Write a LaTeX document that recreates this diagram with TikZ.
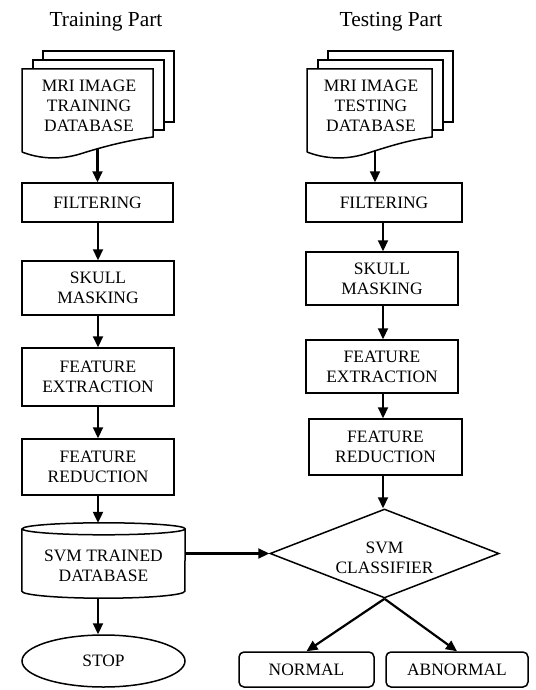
\documentclass[tikz,border=0pt]{standalone}
\usepackage{fontspec}
\setmainfont{Liberation Serif}
\usetikzlibrary{shapes.geometric,arrows.meta}
% stack of three sheets, #1 = left edge, #2 = sheet width
\newcommand{\docstack}[2]{%
  \draw[sheet] (#1+21,60) -- (#1+21,51) -- (#1+#2+21,51) -- (#1+#2+21,122) -- (#1+#2+11,122);
  \draw[sheet] (#1+11,69) -- (#1+11,60) -- (#1+#2+11,60) -- (#1+#2+11,130) -- (#1+#2,130);
  \draw[sheet] (#1,152) -- (#1,69) -- (#1+#2,69) -- (#1+#2,137)
    .. controls (#1+#2-23,140) and (#1+83,146) .. (#1+58,154)
    .. controls (#1+38,160) and (#1+18,159) .. (#1,152);
}

\begin{document}
\begin{tikzpicture}[x=1bp,y=-1bp,
    every node/.style={font=\fontsize{17.5}{20}\selectfont, align=center, inner sep=0pt},
    sheet/.style={line width=1.5bp, line join=miter},
    box/.style={draw, line width=1.5bp},
    arr/.style={-{Triangle[length=11bp,width=10bp]}, line width=2.2bp}]
  \useasboundingbox[fill=white] (0,0) rectangle (536,690);

  % titles
  \node[font=\fontsize{21.5}{24}\selectfont] (trtitle) at (106,22) {Training Part};
  \node[font=\fontsize{21.5}{24}\selectfont] (tstitle) at (391,22) {Testing Part};

  % training part
  \docstack{22}{131}
  \node (trdb) at (89,106) {MRI IMAGE\\TRAINING\\DATABASE};
  \coordinate (trout) at (97.5,149);
  \node[box, minimum width=151bp, minimum height=39bp] (lfilt) at (97.5,202.5) {FILTERING};
  \node[box, minimum width=152bp, minimum height=54bp] (lskull) at (98,288) {SKULL\\MASKING};
  \node[box, minimum width=152bp, minimum height=58bp] (lfext) at (98,377) {FEATURE\\EXTRACTION};
  \node[box, minimum width=152bp, minimum height=56bp] (lfred) at (98,467) {FEATURE\\REDUCTION};
  \node[minimum width=163bp, minimum height=75bp] (svmdb) at (103.5,560.5) {};
  \node (svmtxt) at (103.5,566) {SVM TRAINED\\DATABASE};
  \draw[sheet] ([yshift=-6bp]svmdb.north west) -- ([yshift=7bp]svmdb.south west)
    arc[start angle=180, end angle=360, x radius=81.5bp, y radius=7bp]
    -- ([yshift=-6bp]svmdb.north east)
    arc[start angle=0, end angle=360, x radius=81.5bp, y radius=6bp];
  \node[box, ellipse, minimum width=163bp, minimum height=52bp] (stop) at (103.5,661) {STOP};

  % testing part
  \docstack{307}{125}
  \node (tsdb) at (371,106) {MRI IMAGE\\TESTING\\DATABASE};
  \coordinate (tsout) at (375,150);
  \node[box, minimum width=156bp, minimum height=39bp] (rfilt) at (384,202.5) {FILTERING};
  \node[box, minimum width=152bp, minimum height=53bp] (rskull) at (382,278.5) {SKULL\\MASKING};
  \node[box, minimum width=152bp, minimum height=53bp] (rfext) at (382,366.5) {FEATURE\\EXTRACTION};
  \node[box, minimum width=153bp, minimum height=56bp] (rfred) at (385.5,447) {FEATURE\\REDUCTION};
  \node[box, diamond, minimum width=229bp, minimum height=89bp] (clsf) at (384.5,553.5) {};
  \node (clsftxt) at (384.5,557.5) {SVM\\CLASSIFIER};
  \node[box, rounded corners=5bp, minimum width=135bp, minimum height=35bp] (normal) at (306.5,669.5) {NORMAL};
  \node[box, rounded corners=5bp, minimum width=142bp, minimum height=35bp] (abnormal) at (457,669.5) {ABNORMAL};

  % connectors
  \draw[arr] (trout) -- (trout |- lfilt.north);
  \draw[arr] (lfilt.south -| lskull) -- (lskull.north);
  \draw[arr] (lskull.south) -- (lfext.north);
  \draw[arr] (lfext.south) -- (lfred.north);
  \draw[arr] (lfred.south) -- (lfred.south |- svmdb.north);
  \draw[arr] (lfred.south |- svmdb.south) -- (lfred.south |- stop.north);
  \draw[arr] (tsout) -- (tsout |- rfilt.north);
  \draw[arr] (rfilt.south -| 383,0) -- (rskull.north -| 383,0);
  \draw[arr] (rskull.south -| 383,0) -- (rfext.north -| 383,0);
  \draw[arr] (rfext.south -| 383,0) -- (rfred.north -| 383,0);
  \draw[arr] (rfred.south -| 383,0) -- (clsf.north -| 383,0);
  \draw[arr] (svmdb.east |- clsf.west) -- (clsf.west);
  \draw[arr] (clsf.south) -- (normal.north);
  \draw[arr] (clsf.south) -- (abnormal.north);
\end{tikzpicture}
\end{document}
